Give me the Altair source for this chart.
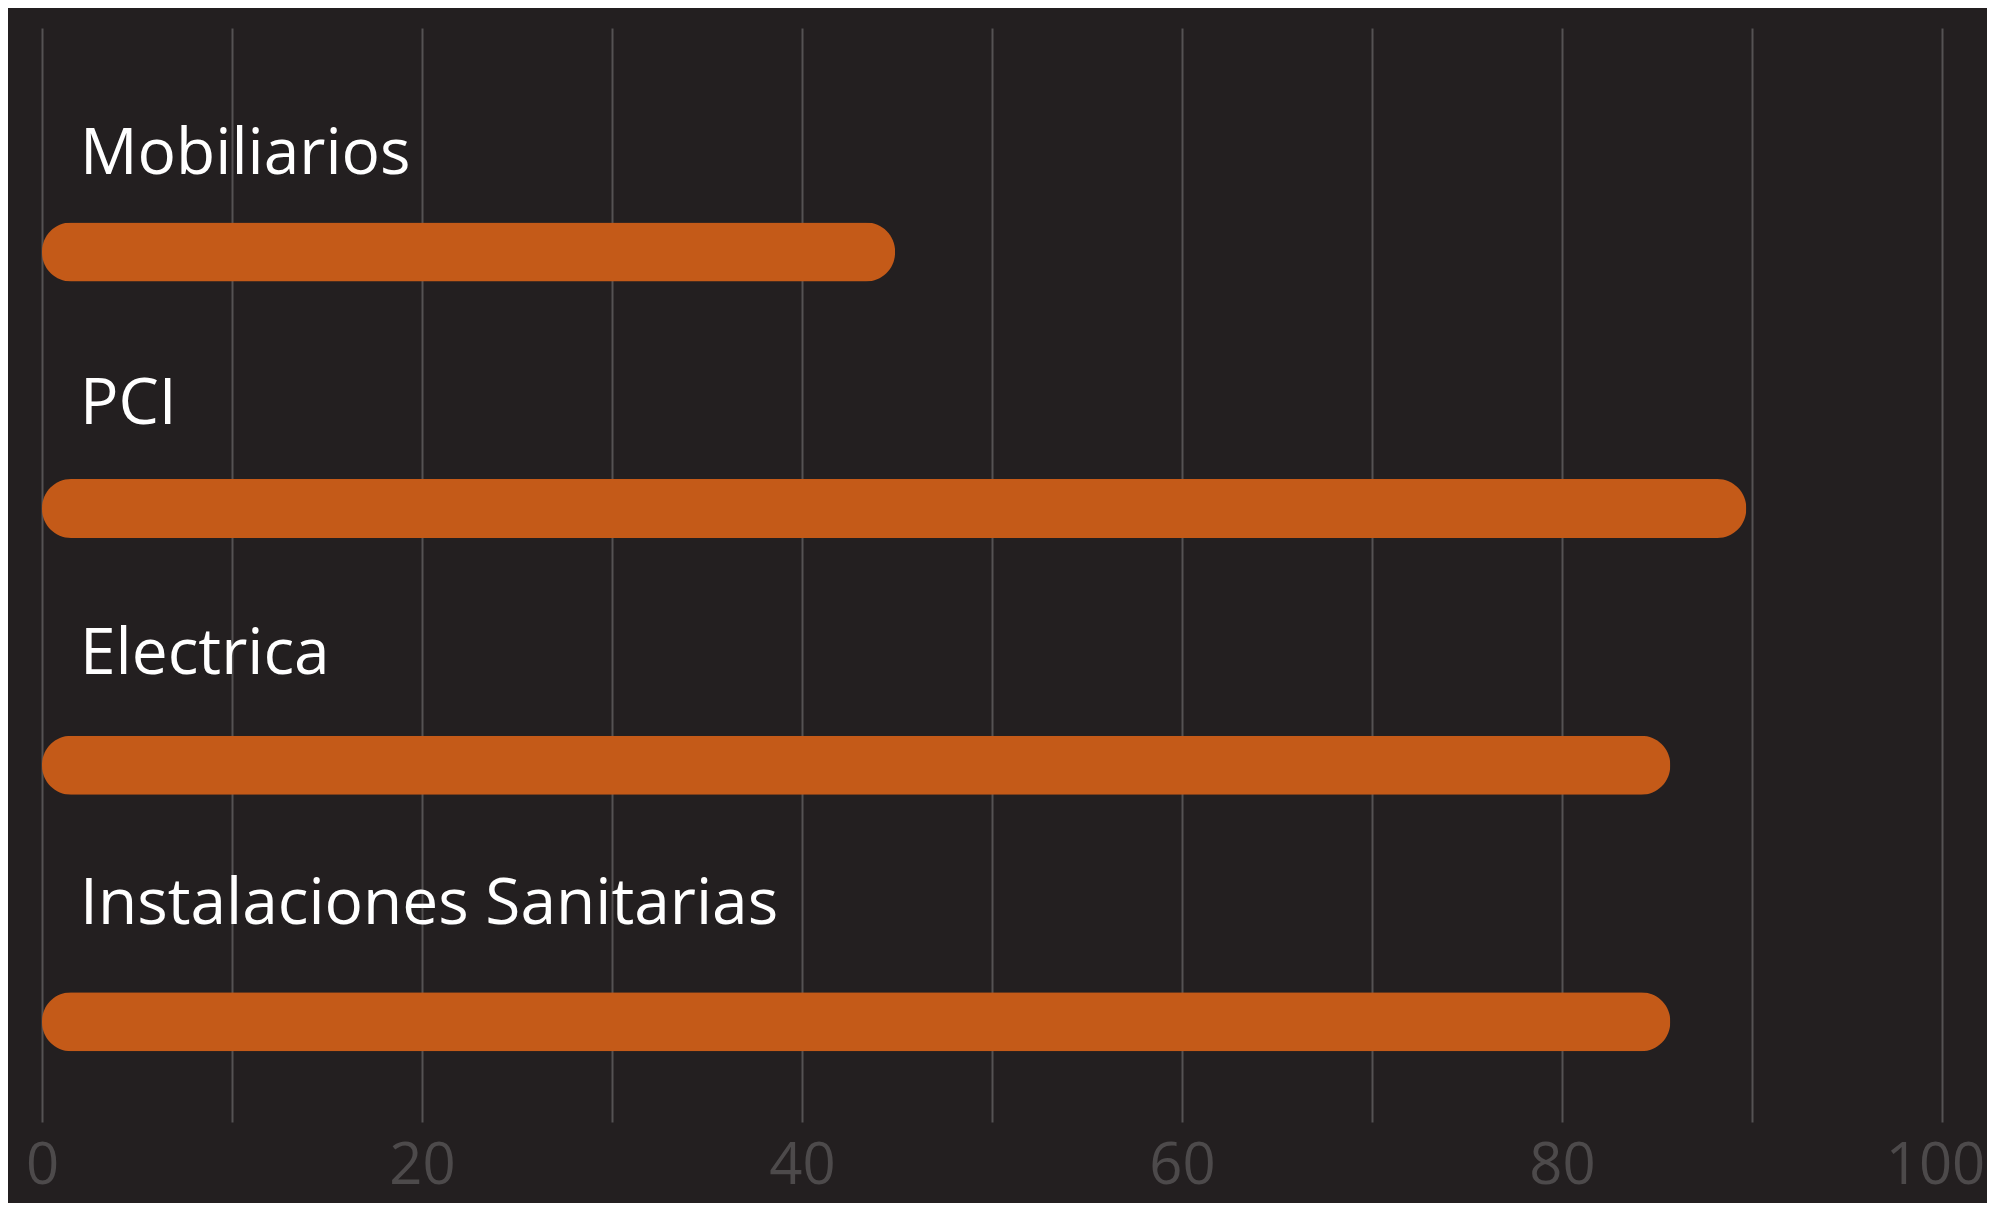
import altair as alt
import pandas as pd

categorias = ["Mobiliarios", "PCI", "Electrica", "Instalaciones Sanitarias"]
valores = [44.9, 89.7, 85.7, 85.7]
ticks_x = [0, 10, 20, 30, 40, 50, 60, 70, 80, 90, 100]

df = pd.DataFrame({"categoria": categorias, "valor": valores})

FONT = "Open Sans"
BAR = "#C45A18"
BG = "#231F20"

x_axis = alt.Axis(
    values=ticks_x,
    labelExpr="datum.value % 20 == 0 ? datum.label : ''",
    grid=True,
    gridColor="#555253",
    gridWidth=2,
    domain=False,
    ticks=False,
    tickSize=0,
    labelFont=FONT,
    labelFontSize=58,
    labelColor="#4D4A4B",
    labelBaseline="alphabetic",
    labelPadding=61,
    labelOffset={"condition": {"test": "datum.value == 100", "value": -7}, "value": 0},
    labelFlush=False,
    labelOverlap=False,
    title=None,
)

base = alt.Chart(df)

bars = base.mark_bar(color=BAR, cornerRadius=29).encode(
    x=alt.X("valor:Q", scale=alt.Scale(domain=[0, 100], nice=False, zero=True), axis=x_axis),
    y=alt.Y(
        "categoria:N",
        sort=categorias,
        scale=alt.Scale(type="band", paddingInner=0.77, paddingOuter=0.5167,
                        align=0.7334, round=False),
        axis=None,
    ),
)

labels = base.mark_text(
    align="left", baseline="alphabetic", dx=38,
    font=FONT, fontSize=64, color="#FFFFFF",
).encode(
    x=alt.datum(0),
    y=alt.Y(
        "categoria:N",
        sort=categorias,
        scale=alt.Scale(type="band", paddingInner=0, paddingOuter=0.187,
                        align=0.224, round=False),
        axis=None,
    ),
    text="categoria:N",
)

chart = alt.layer(bars, labels).resolve_scale(y="independent").properties(
    width=1900,
    height=1094,
    padding={"left": 34, "top": 20, "right": 45, "bottom": 81},
    autosize=alt.AutoSizeParams(type="none"),
    background=BG,
).configure_view(stroke=None)

chart.save("out.html", embed_options={"renderer": "svg", "actions": False})
